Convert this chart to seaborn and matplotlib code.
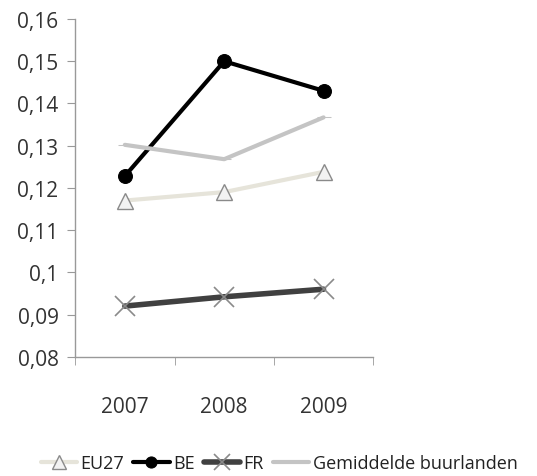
import pandas as pd
import matplotlib
matplotlib.use("Agg")
import matplotlib.pyplot as plt
import seaborn as sns
from matplotlib.ticker import FixedLocator, FuncFormatter

years = ["2007", "2008", "2009"]
eu27 = [0.117, 0.119, 0.1238]
be = [0.1228, 0.150, 0.143]
fr = [0.092, 0.0942, 0.096]
buur = [0.1302, 0.1268, 0.1367]
y_ticks = [0.08, 0.09, 0.10, 0.11, 0.12, 0.13, 0.14, 0.15, 0.16]

sns.set_style("white")
plt.rcParams["font.family"] = ["Open Sans", "DejaVu Sans"]

df = pd.DataFrame({"pos": range(len(years)), "EU27": eu27, "BE": be, "FR": fr,
                   "Gemiddelde buurlanden": buur})

fig = plt.figure(figsize=(5.37, 4.77), dpi=100)
ax = fig.add_axes([0.14, 0.25, 0.555, 0.708])

sns.lineplot(data=df, x="pos", y="EU27", ax=ax, color="#e6e4da", linewidth=3,
             marker="^", markersize=12, markerfacecolor="#f2f2f2",
             markeredgecolor="#8a8a8a", markeredgewidth=1, label="EU27")
sns.lineplot(data=df, x="pos", y="BE", ax=ax, color="black", linewidth=3,
             marker="o", markersize=10, markeredgecolor="black", label="BE")
sns.lineplot(data=df, x="pos", y="FR", ax=ax, color="#404040", linewidth=4,
             marker="x", markersize=14, markeredgecolor="#8a8a8a",
             markeredgewidth=1.2, label="FR")
sns.lineplot(data=df, x="pos", y="Gemiddelde buurlanden", ax=ax, color="#c4c4c4",
             linewidth=3, marker="_", markersize=10, markeredgecolor="#c4c4c4",
             label="Gemiddelde buurlanden")

ax.set_xlim(-0.5, 2.5)
ax.set_ylim(0.08, 0.16)
ax.set_xticks(range(len(years)))
ax.set_xticklabels(years)
ax.xaxis.set_minor_locator(FixedLocator([-0.5, 0.5, 1.5, 2.5]))
ax.tick_params(axis="x", which="major", length=0, pad=28, labelsize=15, colors="#333333")
ax.tick_params(axis="x", which="minor", length=6, color="#999999", direction="out",
               bottom=True)
ax.set_yticks(y_ticks)
ax.yaxis.set_major_formatter(FuncFormatter(lambda v, p: f"{v:g}".replace(".", ",")))
ax.tick_params(axis="y", length=6, color="#999999", direction="out", left=True,
               labelsize=15, colors="#333333", pad=6)
ax.set_xlabel("")
ax.set_ylabel("")
for s in ["top", "right"]:
    ax.spines[s].set_visible(False)
for s in ["left", "bottom"]:
    ax.spines[s].set_color("#999999")
    ax.spines[s].set_linewidth(1)

leg = ax.legend(loc="center", bbox_to_anchor=(0.52, 0.027), bbox_transform=fig.transFigure,
                ncol=4, frameon=False, fontsize=13, handlelength=2.0, handletextpad=0.2,
                columnspacing=0.5, markerscale=0.8, borderpad=0.1)
for t in leg.get_texts():
    t.set_color("#222222")

fig.savefig("out.png", dpi=100)
